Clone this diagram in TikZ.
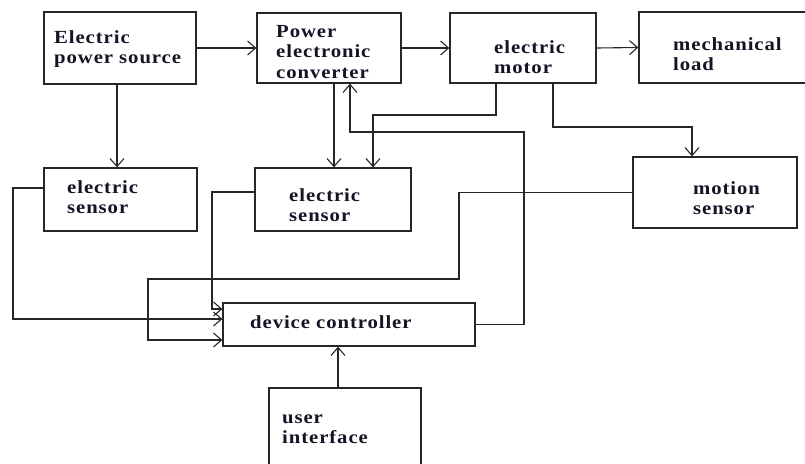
\documentclass[tikz,border=0pt]{standalone}
\usepackage{fontspec}
\newfontfamily\lblfont{Liberation Serif Bold}[FakeStretch=1.12,LetterSpace=5]
\usetikzlibrary{arrows.meta,fit}
\definecolor{ink}{rgb}{0.08,0.08,0.14}
\definecolor{wire}{rgb}{0.15,0.15,0.15}
\tikzset{
  box/.style={draw=wire,line width=1.3pt,inner sep=0pt},
  txt/.style={anchor=west,inner sep=0pt,align=left,text=ink,font=\lblfont\fontsize{18.5}{20.5}\selectfont},
  arr/.style={draw=wire,line width=1.1pt,-{Straight Barb[length=8pt,width=14pt]}}
}
\begin{document}
\begin{tikzpicture}[x=1pt,y=-1pt]
\useasboundingbox (0,0) rectangle (805,463);
\clip (0,0) rectangle (805,463);
% boxes
\node[box,fit={(44,12) (196,84)}] (src) {};
\node[box,fit={(257,13) (401,83)}] (conv) {};
\node[box,fit={(450,13) (596,83)}] (motor) {};
\node[box,fit={(639,12) (830,83)}] (load) {};
\node[box,fit={(44,168) (197,231)}] (sens1) {};
\node[box,fit={(255,168) (411,231)}] (sens2) {};
\node[box,fit={(633,157) (797,228)}] (mot) {};
\node[box,fit={(223,303) (475,346)}] (ctrl) {};
\node[box,fit={(269,388) (421,480)}] (ui) {};
% texts
\node[txt] (srcT) at (54,49) {Electric\\power source};
\node[txt] (convT) at (276,52) {Power\\electronic\\converter};
\node[txt] (motorT) at (494,57) {electric\\motor};
\node[txt] (loadT) at (673,54) {mechanical\\load};
\node[txt] (sens1T) at (67,197) {electric\\sensor};
\node[txt] (sens2T) at (289,205) {electric\\sensor};
\node[txt] (motT) at (693,198) {motion\\sensor};
\node[txt] (ctrlT) at (250,322) {device controller};
\node[txt] (uiT) at (282,429) {user\\interface};
% junction points
\coordinate (m1) at (373,115);
\coordinate (m2) at (692,127);
\coordinate (f1) at (524,132);
\coordinate (f2) at (350,132);
\coordinate (g1) at (459,279);
\coordinate (g2) at (148,340);
\coordinate (h1) at (13,319);
\coordinate (k1) at (212,309);
% connectors
\draw[arr] (src.east) -- (conv.west);
\draw[arr] (conv.east) -- (motor.west);
\draw[arr] (motor.east) -- (load.west);
\draw[arr] ([xshift=-3pt]src.south) -- ([xshift=-3pt]src.south |- sens1.north);
\draw[arr] ([xshift=5pt]conv.south) -- ([xshift=5pt]conv.south |- sens2.north);
\draw[arr] ([xshift=-27pt]motor.south) |- (m1) -- (m1 |- sens2.north);
\draw[arr] ([xshift=30pt]motor.south) |- (m2) -- (m2 |- mot.north);
\draw[arr] (ctrl.east) -| (f1) -- (f2) -- (f2 |- conv.south);
\draw[arr] (mot.west) -| (g1) -| (g2) -- (g2 -| ctrl.west);
\draw[arr] ([yshift=11.5pt]sens1.west) -| (h1) -- (h1 -| ctrl.west);
\draw[arr] ([yshift=7.5pt]sens2.west) -| (k1) -- (k1 -| ctrl.west);
\draw[arr] ([xshift=-7pt]ui.north) -- ([xshift=-7pt]ui.north |- ctrl.south);
\end{tikzpicture}
\end{document}
